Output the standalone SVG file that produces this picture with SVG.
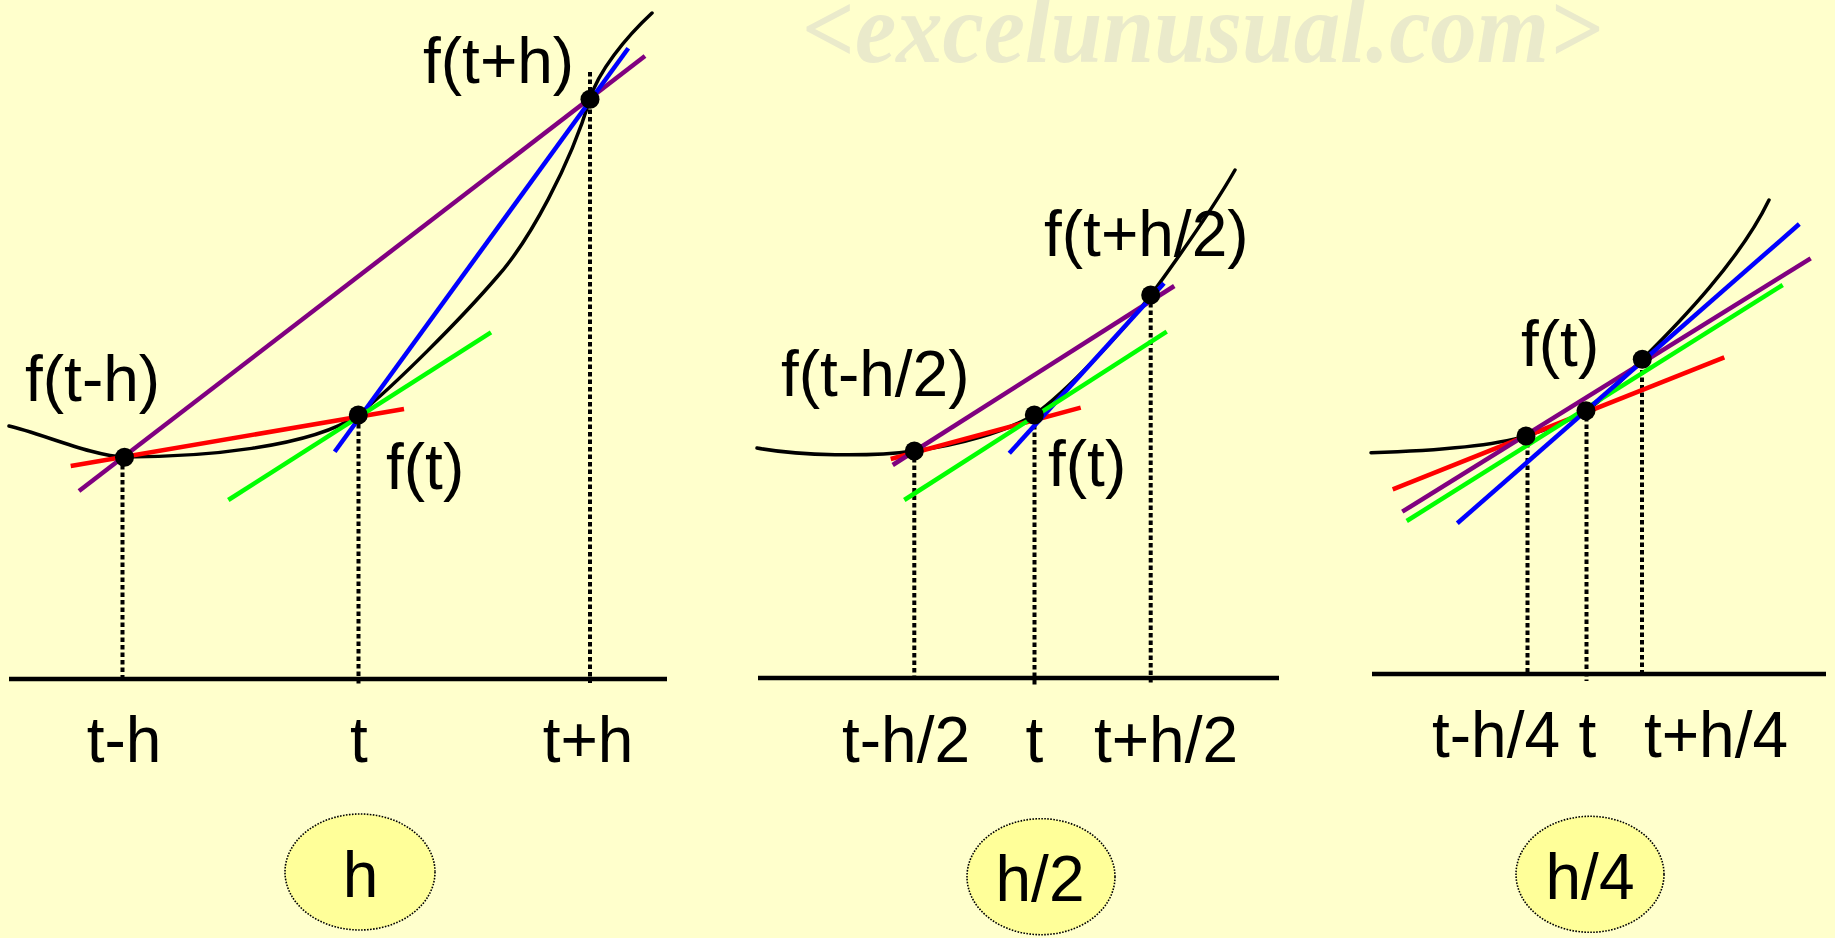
<svg xmlns="http://www.w3.org/2000/svg" width="1835" height="938" viewBox="0 0 1835 938">
<style>
.bg{fill:#FFFFCC}
.wm{font-family:"Liberation Serif",serif;font-style:italic;font-weight:bold;font-size:100px;fill:#EAEACB}
.lbl{font-family:"Liberation Sans",Arial,sans-serif;font-size:64px;fill:#000}
.mid{text-anchor:middle}
.curve{fill:none;stroke:#000;stroke-width:3.5;stroke-linecap:round}
.axis{stroke:#000;stroke-width:4.5;fill:none}
.drop{stroke:#000;stroke-width:4;stroke-dasharray:4.5 3;fill:none}
.red{stroke:#FF0000;stroke-width:4.5;fill:none}
.pur{stroke:#800080;stroke-width:4.5;fill:none}
.blu{stroke:#0000FF;stroke-width:4.5;fill:none}
.grn{stroke:#00FF00;stroke-width:4.5;fill:none}
.dot{fill:#000}
.oval{fill:#FFFF99;stroke:#000;stroke-width:1.6;stroke-dasharray:1.6 1.4}
</style>
<rect class="bg" x="0" y="0" width="1835" height="938"/>
<text class="wm" x="802" y="62" textLength="800" lengthAdjust="spacingAndGlyphs">&lt;excelunusual.com&gt;</text>

<!-- Panel 1 -->
<g id="panel-h">
  <line class="axis" x1="9" y1="679" x2="667" y2="679"/>
  <line class="drop" x1="122.5" y1="465" x2="122.5" y2="679"/>
  <line class="drop" x1="358.5" y1="424" x2="358.5" y2="685"/>
  <line class="drop" x1="590" y1="72" x2="590" y2="683"/>
  <path class="curve" d="M9,426 C40,433 95,457 125,457 C200,457 310,448 358,415 C395,385 460,320 497,277 C530,240 570,165 590,99 C598,72 625,38 652,13"/>
  <line class="red" x1="70.7" y1="466" x2="404" y2="409"/>
  <line class="pur" x1="79" y1="491" x2="645" y2="56"/>
  <line class="blu" x1="334.7" y1="451.7" x2="628.3" y2="48.3"/>
  <line class="grn" x1="228.3" y1="500" x2="491" y2="332.3"/>
  <circle class="dot" cx="124.5" cy="457.3" r="9.5"/>
  <circle class="dot" cx="358.3" cy="415" r="9.5"/>
  <circle class="dot" cx="590" cy="99.3" r="9.5"/>
  <text class="lbl" x="423" y="83">f(t+h)</text>
  <text class="lbl" x="25" y="401">f(t-h)</text>
  <text class="lbl" x="386" y="489">f(t)</text>
  <text class="lbl mid" x="124" y="762">t-h</text>
  <text class="lbl mid" x="359" y="762">t</text>
  <text class="lbl mid" x="588" y="762">t+h</text>
</g>
<g id="oval-h">
  <ellipse class="oval" cx="360" cy="872" rx="75" ry="58"/>
  <text class="lbl mid" x="360.5" y="897">h</text>
</g>

<!-- Panel 2 -->
<g id="panel-h2">
  <line class="axis" x1="758" y1="678" x2="1279" y2="678"/>
  <line class="drop" x1="914.3" y1="458" x2="914.3" y2="678"/>
  <line class="drop" x1="1034.5" y1="425" x2="1034.5" y2="685"/>
  <line class="drop" x1="1150.7" y1="303" x2="1150.7" y2="685"/>
  <path class="curve" d="M757,448 C800,456 870,457 914,451 C960,445 1005,432 1034,415 C1065,393 1120,335 1151,295 C1175,262 1215,205 1235,170"/>
  <line class="red" x1="890.7" y1="459" x2="1080.7" y2="407.7"/>
  <line class="pur" x1="892.7" y1="465" x2="1174.3" y2="286"/>
  <line class="blu" x1="1009.3" y1="453.3" x2="1164" y2="283.3"/>
  <line class="grn" x1="904.3" y1="500" x2="1166.7" y2="331.7"/>
  <circle class="dot" cx="914.3" cy="451" r="9.5"/>
  <circle class="dot" cx="1034.3" cy="415" r="9.5"/>
  <circle class="dot" cx="1150.7" cy="295" r="9.5"/>
  <text class="lbl" x="781" y="396">f(t-h/2)</text>
  <text class="lbl" x="1044" y="256">f(t+h/2)</text>
  <text class="lbl" x="1048" y="486">f(t)</text>
  <text class="lbl mid" x="906" y="762">t-h/2</text>
  <text class="lbl mid" x="1034.5" y="762">t</text>
  <text class="lbl mid" x="1166" y="762">t+h/2</text>
</g>
<g id="oval-h2">
  <ellipse class="oval" cx="1041" cy="876.7" rx="74" ry="58"/>
  <text class="lbl mid" x="1040" y="901">h/2</text>
</g>

<!-- Panel 3 -->
<g id="panel-h4">
  <line class="axis" x1="1372" y1="674" x2="1826" y2="674"/>
  <line class="drop" x1="1527.5" y1="443" x2="1527.5" y2="674"/>
  <line class="drop" x1="1586.5" y1="417" x2="1586.5" y2="681"/>
  <line class="drop" x1="1642" y1="370" x2="1642" y2="674"/>
  <path class="curve" d="M1371,452.7 C1430,451 1490,447 1526,436 C1546,430 1566,422 1586,410.7 C1606,398 1625,376 1642.3,359.3 C1680,322 1740,260 1769,200"/>
  <line class="red" x1="1392.7" y1="489.3" x2="1724.3" y2="357.3"/>
  <line class="pur" x1="1402.3" y1="511.7" x2="1810.7" y2="258.3"/>
  <line class="grn" x1="1406.7" y1="521" x2="1782.7" y2="285"/>
  <line class="blu" x1="1457.3" y1="523.3" x2="1799.3" y2="224"/>
  <circle class="dot" cx="1526" cy="436" r="9.5"/>
  <circle class="dot" cx="1586" cy="410.7" r="9.5"/>
  <circle class="dot" cx="1642.3" cy="359.3" r="9.5"/>
  <text class="lbl" x="1521" y="366">f(t)</text>
  <text class="lbl mid" x="1496" y="757">t-h/4</text>
  <text class="lbl mid" x="1587.5" y="757">t</text>
  <text class="lbl mid" x="1716" y="757">t+h/4</text>
</g>
<g id="oval-h4">
  <ellipse class="oval" cx="1590" cy="874.3" rx="74" ry="58"/>
  <text class="lbl mid" x="1590" y="898.5">h/4</text>
</g>
</svg>
